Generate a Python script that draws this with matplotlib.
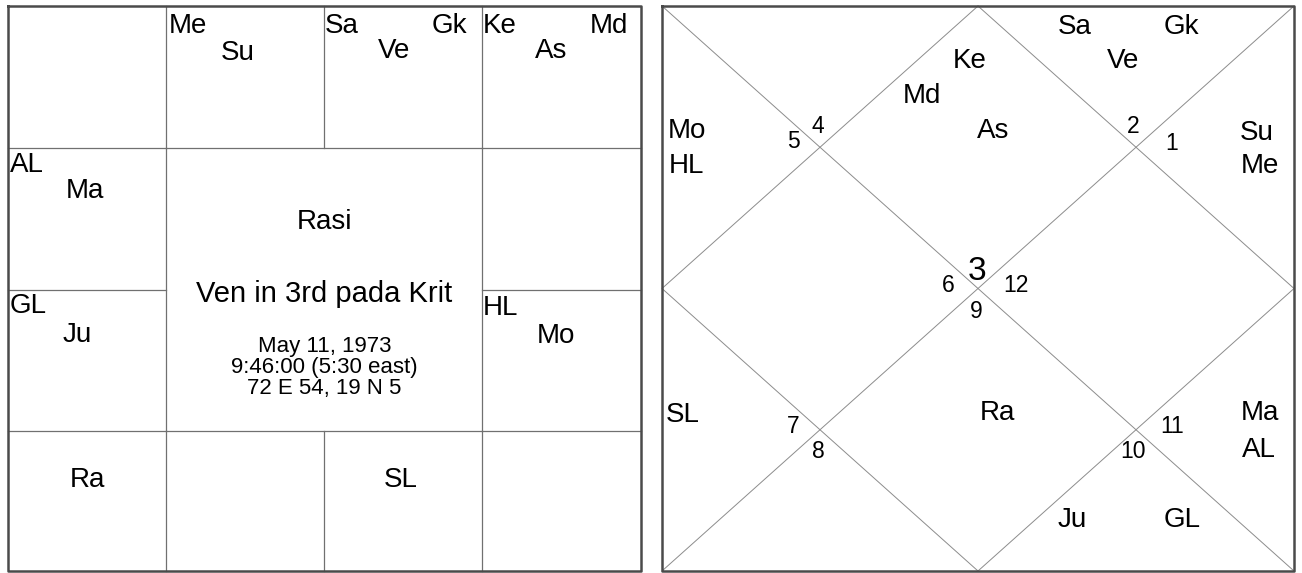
"""Rasi chart in south and north Indian style, redrawn with matplotlib."""

import matplotlib.pyplot as plt

plt.rcParams["font.family"] = ["Liberation Sans", "DejaVu Sans"]

# --- south chart (left): planets and their spots -------------------------
SOUTH_LABELS = ["Me", "Su", "Sa", "Gk", "Ve", "Ke", "Md", "As",
                "AL", "Ma", "GL", "Ju", "HL", "Mo", "Ra", "SL"]
SOUTH_X = [169, 238, 325, 467, 394, 483, 628, 551,
           10, 85, 10, 77, 483, 556, 87, 401]
SOUTH_Y = [33, 60, 33, 33, 58, 33, 33, 58,
           172, 198, 313, 342, 315, 343, 487, 487]
SOUTH_HA = ["left", "center", "left", "right", "center", "left", "right", "center",
            "left", "center", "left", "center", "left", "center", "center", "center"]

CENTER_LINES = ["Rasi", "Ven in 3rd pada Krit", "May 11, 1973",
                "9:46:00 (5:30 east)", "72 E 54, 19 N 5"]
CENTER_Y = [229, 302, 352, 373, 394]
CENTER_SIZE = [20, 21, 16, 16, 16]

# --- north chart (right): planets and house numbers ----------------------
NORTH_LABELS = ["Sa", "Gk", "Ve", "Ke", "Md", "As", "Mo", "HL", "Su", "Me",
                "Ra", "SL", "Ma", "AL", "Ju", "GL"]
NORTH_X = [1075, 1181, 1123, 970, 922, 993, 687, 686, 1257, 1260,
           997, 683, 1260, 1259, 1072, 1182]
NORTH_Y = [34, 34, 68, 68, 103, 138, 138, 173, 140, 173,
           420, 422, 420, 457, 527, 527]

HOUSES = ["1", "2", "3", "4", "5", "6", "7", "8", "9", "10", "11", "12"]
HOUSE_X = [1172, 1133, 977, 818, 793, 948, 793, 818, 976, 1133, 1172, 1016]
HOUSE_Y = [150, 133, 280, 133, 148, 292, 433, 458, 318, 458, 433, 292]

# layout of the two boxes, in pixels
S_XS = [8, 166, 324, 482, 641]
S_YS = [6, 148, 290, 431, 571]
N_X0, N_X1, N_Y0, N_Y1 = 662, 1294, 6, 571

fig = plt.figure(figsize=(13.02, 5.73), dpi=100)
ax = fig.add_axes([0, 0, 1, 1])
ax.set_xlim(0, 1302)
ax.set_ylim(573, 0)
ax.axis("off")

grid = "#707070"
border = "#4a4a4a"

# south chart grid: full lines on the outside ring, centre left open
for x in S_XS[1:-1]:
    ax.plot([x, x], [S_YS[0], S_YS[1]], color=grid, lw=0.9)
    ax.plot([x, x], [S_YS[3], S_YS[4]], color=grid, lw=0.9)
for y in S_YS[1:-1]:
    ax.plot([S_XS[0], S_XS[1]], [y, y], color=grid, lw=0.9)
    ax.plot([S_XS[3], S_XS[4]], [y, y], color=grid, lw=0.9)
ax.plot([S_XS[1], S_XS[3]], [S_YS[1], S_YS[1]], color=grid, lw=0.9)
ax.plot([S_XS[1], S_XS[3]], [S_YS[3], S_YS[3]], color=grid, lw=0.9)
ax.plot([S_XS[1], S_XS[1]], [S_YS[1], S_YS[3]], color=grid, lw=0.9)
ax.plot([S_XS[3], S_XS[3]], [S_YS[1], S_YS[3]], color=grid, lw=0.9)
ax.plot([S_XS[0], S_XS[4], S_XS[4], S_XS[0], S_XS[0]],
        [S_YS[0], S_YS[0], S_YS[4], S_YS[4], S_YS[0]], color=border, lw=1.8)

for lab, x, y, ha in zip(SOUTH_LABELS, SOUTH_X, SOUTH_Y, SOUTH_HA):
    ax.text(x, y, lab, ha=ha, va="baseline", fontsize=20, color="black")

cx = (S_XS[0] + S_XS[4]) / 2
for line, y, fs in zip(CENTER_LINES, CENTER_Y, CENTER_SIZE):
    ax.text(cx, y, line, ha="center", va="baseline", fontsize=fs, color="black")

# north chart: box, diagonals, inner diamond
mx, my = (N_X0 + N_X1) / 2, (N_Y0 + N_Y1) / 2
thin = "#8c8c8c"
ax.plot([N_X0, N_X1], [N_Y0, N_Y1], color=thin, lw=0.7)
ax.plot([N_X0, N_X1], [N_Y1, N_Y0], color=thin, lw=0.7)
ax.plot([mx, N_X1, mx, N_X0, mx], [N_Y0, my, N_Y1, my, N_Y0], color=thin, lw=0.7)
ax.plot([N_X0, N_X1, N_X1, N_X0, N_X0],
        [N_Y0, N_Y0, N_Y1, N_Y1, N_Y0], color=border, lw=1.8)

for lab, x, y in zip(NORTH_LABELS, NORTH_X, NORTH_Y):
    ax.text(x, y, lab, ha="center", va="baseline", fontsize=20, color="black")

for h, x, y in zip(HOUSES, HOUSE_X, HOUSE_Y):
    ax.text(x, y, h, ha="center", va="baseline",
            fontsize=24 if h == "3" else 16.5, color="black")

fig.savefig("out.png", dpi=100, facecolor="white")
